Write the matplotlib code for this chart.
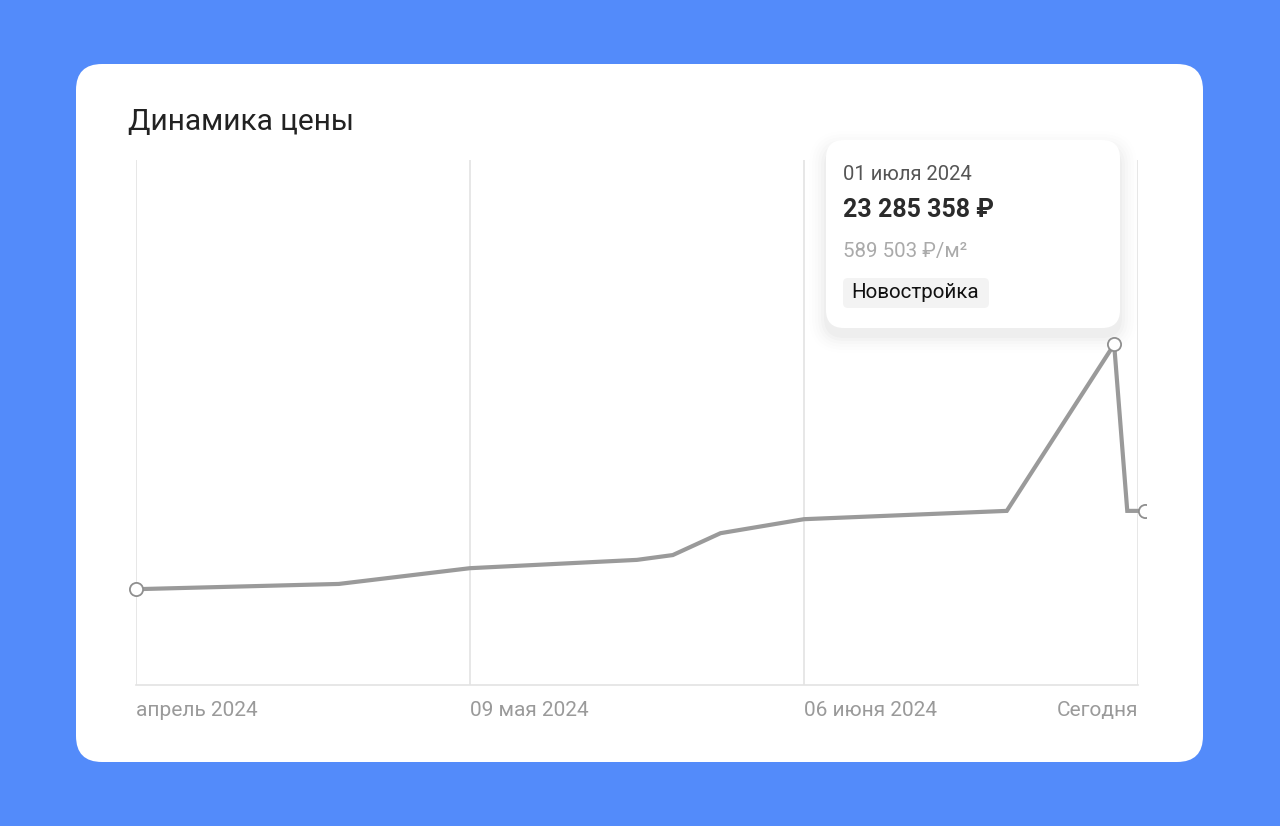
import matplotlib.pyplot as plt
from matplotlib.patches import FancyBboxPatch, Rectangle

# ---- data ----
days = [0, 17, 28, 42, 45, 49, 56, 73, 82, 83.1, 84.6]
price_mln = [17.69, 17.81, 18.17, 18.36, 18.47, 18.97, 19.29, 19.48, 23.285, 19.48, 19.48]
tick_days = [0, 28, 56, 84]
tick_labels = ["апрель 2024", "09 мая 2024", "06 июня 2024", "Сегодня"]
tip_date = "01 июля 2024"
tip_price = "23 285 358 ₽"
tip_sqm = "589 503 ₽/м²"
tip_tag = "Новостройка"
peak_idx = 8

FONT = ["Roboto", "DejaVu Sans"]
plt.rcParams["font.family"] = FONT

W, H = 1280, 826
fig = plt.figure(figsize=(W / 100, H / 100), dpi=100)
fig.patch.set_facecolor("#538bfa")

# background layer in pixel coords
bg = fig.add_axes([0, 0, 1, 1])
bg.set_xlim(0, W)
bg.set_ylim(H, 0)
bg.axis("off")
bg.add_patch(FancyBboxPatch((76, 64), 1127, 698, boxstyle="round,pad=0,rounding_size=26",
                            facecolor="white", edgecolor="none"))
bg.text(128, 122, "Динамика цены", fontsize=21.5, color="#222222", va="center", ha="left")

# ---- chart ----
ax = fig.add_axes([136 / W, 1 - 685 / H, (1138 - 136) / W, (685 - 160) / H])
ax.set_facecolor("none")
ax.set_xlim(0, 84)
ax.set_ylim(15.5, 27.5)
for d in tick_days:
    ax.axvline(d, color="#e3e3e3", lw=1.2, zorder=1)
for s in ["top", "left", "right"]:
    ax.spines[s].set_visible(False)
ax.spines["bottom"].set_color("#e3e3e3")
ax.spines["bottom"].set_linewidth(1.2)
ax.set_yticks([])
ax.set_xticks([])

# the chart is cut a few pixels right of the last gridline
clip = Rectangle((-0.03, -0.1), 1.0375, 1.2, transform=ax.transAxes, visible=False)
ax.add_patch(clip)

ln, = ax.plot(days, price_mln, color="#9a9a9a", lw=3, solid_joinstyle="miter", zorder=3)
mk = [0, peak_idx, len(days) - 1]
mks, = ax.plot([days[i] for i in mk], [price_mln[i] for i in mk], "o", ms=9.5, mfc="white",
               mec="#8f8f8f", mew=1.3, zorder=4)
for art in (ln, mks):
    art.set_clip_path(clip)

for d, lab in zip(tick_days, tick_labels):
    ha = "right" if d == tick_days[-1] else "left"
    ax.annotate(lab, xy=(d, 0), xycoords=("data", "axes fraction"), xytext=(0, -18.5),
                textcoords="offset points", ha=ha, va="center", fontsize=15, color="#9a9a9a")

# ---- tooltip ----
for i, a in enumerate([0.02, 0.015, 0.012, 0.009, 0.006, 0.004]):
    g = 2 + i * 3
    bg.add_patch(FancyBboxPatch((826 - g, 140 - g + 8), 294 + 2 * g, 188 + 2 * g,
                                boxstyle="round,pad=0,rounding_size=%d" % (18 + g),
                                facecolor="black", edgecolor="none", alpha=a))
bg.add_patch(FancyBboxPatch((826, 140), 294, 188, boxstyle="round,pad=0,rounding_size=18",
                            facecolor="white", edgecolor="none"))
bg.text(843, 175, tip_date, fontsize=14.6, color="#555555", va="center")
bg.text(843, 210, tip_price, fontsize=18, color="#2b2b2b", fontweight="bold", va="center")
bg.text(843, 252, tip_sqm, fontsize=14.8, color="#aaaaaa", va="center")
bg.add_patch(FancyBboxPatch((843, 278), 146, 30, boxstyle="round,pad=0,rounding_size=5",
                            facecolor="#f3f3f3", edgecolor="none"))
bg.text(851, 293, tip_tag, fontsize=14.8, color="#111111", va="center")

fig.savefig("out.png", dpi=100)
